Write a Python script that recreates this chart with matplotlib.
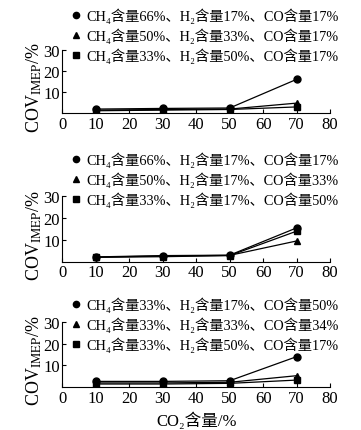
import matplotlib
matplotlib.use("Agg")
import matplotlib.pyplot as plt
from matplotlib.lines import Line2D

# CO2 含量 (%)
co2 = [10, 30, 50, 70]

# 图 (a)：CO 含量固定 17%
labels_a = ["CH₄含量66%、H₂含量17%、CO含量17%",
            "CH₄含量50%、H₂含量33%、CO含量17%",
            "CH₄含量33%、H₂含量50%、CO含量17%"]
cov_a1 = [2.0, 2.3, 2.5, 16.0]
cov_a2 = [1.5, 1.8, 2.0, 4.8]
cov_a3 = [1.2, 1.5, 1.8, 3.0]

# 图 (b)：H2 含量固定 17%
labels_b = ["CH₄含量66%、H₂含量17%、CO含量17%",
            "CH₄含量50%、H₂含量17%、CO含量33%",
            "CH₄含量33%、H₂含量17%、CO含量50%"]
cov_b1 = [2.2, 2.8, 3.0, 15.5]
cov_b2 = [2.1, 2.6, 2.9, 9.5]
cov_b3 = [2.0, 2.3, 2.8, 14.0]

# 图 (c)：CH4 含量固定 33%
labels_c = ["CH₄含量33%、H₂含量17%、CO含量50%",
            "CH₄含量33%、H₂含量33%、CO含量34%",
            "CH₄含量33%、H₂含量50%、CO含量17%"]
cov_c1 = [2.7, 2.7, 3.0, 14.0]
cov_c2 = [2.0, 2.0, 2.3, 5.3]
cov_c3 = [1.5, 1.5, 1.8, 3.3]

xticks = [0, 10, 20, 30, 40, 50, 60, 70, 80]
yticks = [10, 20, 30]

plt.rcParams["font.family"] = ["Liberation Serif", "DejaVu Serif", "Noto Sans CJK SC"]
plt.rcParams["mathtext.fontset"] = "stix"
plt.rcParams["font.size"] = 10

W, H = 361, 431
fig = plt.figure(figsize=(W / 100, H / 100), dpi=100)

# (顶部像素, 底部像素, 图例顶部像素)
panels = [
    (50.7, 114.3, 9, labels_a, [cov_a1, cov_a2, cov_a3]),
    (197.3, 262.7, 153, labels_b, [cov_b1, cov_b2, cov_b3]),
    (322.7, 388.3, 298, labels_c, [cov_c1, cov_c2, cov_c3]),
]
markers = ["o", "^", "s"]
left_px, right_px = 62.4, 330.0

for i, (top, bottom, leg_top, labels, series) in enumerate(panels):
    ax = fig.add_axes([left_px / W, (H - bottom) / H,
                       (right_px - left_px) / W, (bottom - top) / H])
    for vals, m in zip(series, markers):
        ax.plot(co2, vals, color="black", lw=0.9, marker=m, markersize=5)
    ax.set_xlim(0, 80)
    ax.set_ylim(0, 30)
    ax.set_xticks(xticks)
    ax.set_yticks(yticks)
    ax.spines["top"].set_visible(False)
    ax.spines["right"].set_visible(False)
    ax.tick_params(direction="in", length=3, width=0.8, labelsize=12, pad=2)
    ax.set_ylabel(r"COV$_{\mathrm{IMEP}}$/%", fontsize=13)
    ax.yaxis.set_label_coords(-0.07, 0.42)

    # 图例只显示标记
    handles = [Line2D([], [], ls="none", marker=m, color="black", markersize=4.5)
               for m in markers]
    ax.legend(handles, labels, loc="upper left",
              bbox_to_anchor=(72 / W, 1 - leg_top / H),
              bbox_transform=fig.transFigure, frameon=False, fontsize=10.3,
              handlelength=0.6, handletextpad=0.4, labelspacing=0.3,
              borderpad=0, borderaxespad=0)
    if i == 2:
        ax.set_xlabel("CO₂含量/%", fontsize=12, labelpad=4)

fig.savefig("out.png", dpi=100)
